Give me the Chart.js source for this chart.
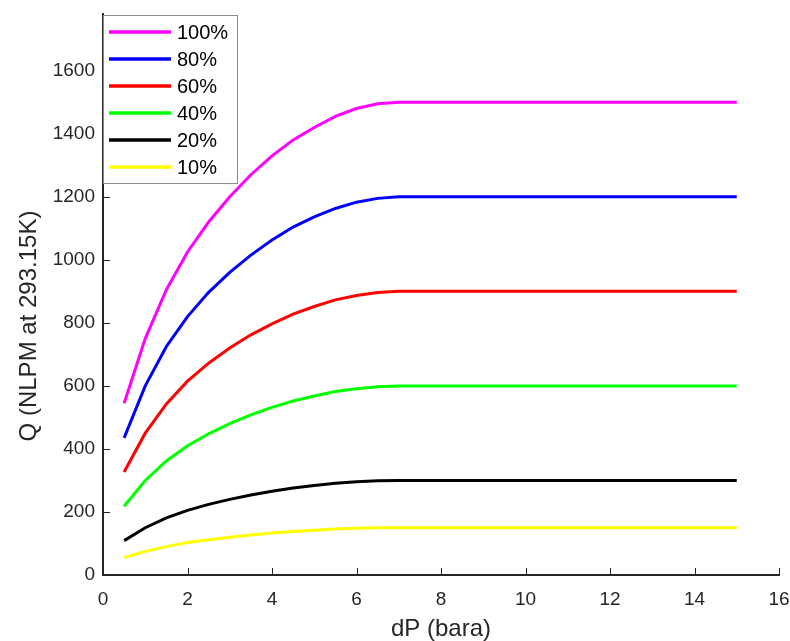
<!DOCTYPE html>
<html>
<head>
<meta charset="utf-8">
<script src="https://cdn.jsdelivr.net/npm/chart.js@4.4.1/dist/chart.umd.min.js"></script>
<style>
  html, body { margin: 0; padding: 0; background: #fff; }
</style>
</head>
<body>
<canvas id="flowChart" width="790" height="641"></canvas>
<script>
// Pressure drop (bara)
const dP = [0.5, 1, 1.5, 2, 2.5, 3, 3.5, 4, 4.5, 5, 5.5, 6, 6.5, 7, 7.5,
            8, 8.5, 9, 9.5, 10, 10.5, 11, 11.5, 12, 12.5, 13, 13.5, 14, 14.5, 15];

// Flow (NLPM) for each valve opening
const q100 = [545, 750, 905, 1025, 1120, 1200, 1270, 1330, 1380, 1420, 1455, 1480, 1495, 1500, 1500,
              1500, 1500, 1500, 1500, 1500, 1500, 1500, 1500, 1500, 1500, 1500, 1500, 1500, 1500, 1500];
const q80 = [435, 600, 725, 820, 897, 960, 1015, 1063, 1104, 1136, 1163, 1183, 1195, 1200, 1200,
             1200, 1200, 1200, 1200, 1200, 1200, 1200, 1200, 1200, 1200, 1200, 1200, 1200, 1200, 1200];
const q60 = [327, 450, 543, 615, 672, 720, 762, 797, 828, 852, 873, 887, 896, 900, 900,
             900, 900, 900, 900, 900, 900, 900, 900, 900, 900, 900, 900, 900, 900, 900];
const q40 = [218, 300, 362, 410, 448, 480, 508, 532, 552, 568, 582, 591, 597, 600, 600,
             600, 600, 600, 600, 600, 600, 600, 600, 600, 600, 600, 600, 600, 600, 600];
const q20 = [109, 150, 181, 205, 224, 240, 254, 266, 276, 284, 291, 296, 299, 300, 300,
             300, 300, 300, 300, 300, 300, 300, 300, 300, 300, 300, 300, 300, 300, 300];
const q10 = [55, 75, 90, 103, 112, 120, 127, 133, 138, 142, 146, 148, 150, 150, 150,
             150, 150, 150, 150, 150, 150, 150, 150, 150, 150, 150, 150, 150, 150, 150];

const seriesLabels = ['100%', '80%', '60%', '40%', '20%', '10%'];
const seriesColors = ['#ff00ff', '#0000ff', '#ff0000', '#00ff00', '#000000', '#ffff00'];
const xTicks = [0, 2, 4, 6, 8, 10, 12, 14, 16];
const yTicks = [0, 200, 400, 600, 800, 1000, 1200, 1400, 1600];
const xTitle = 'dP (bara)';
const yTitle = 'Q (NLPM at 293.15K)';

const FONT = '"Liberation Sans", Arial, sans-serif';
const AXIS = '#262626';

function toPoints(ys) {
    return ys.map(function(y, i) { return { x: dP[i], y: y }; });
}

// MATLAB style inward tick marks + axis titles
const matlabAxes = {
    id: 'matlabAxes',
    afterDatasetsDraw: function(chart) {
        const ctx = chart.ctx;
        const xs = chart.scales.x, ys = chart.scales.y;
        const area = chart.chartArea;
        ctx.save();
        ctx.strokeStyle = AXIS;
        ctx.lineWidth = 1;
        xTicks.forEach(function(v) {
            const px = Math.round(xs.getPixelForValue(v)) + 0.5;
            ctx.beginPath();
            ctx.moveTo(px, area.bottom);
            ctx.lineTo(px, area.bottom - 7);
            ctx.stroke();
        });
        yTicks.forEach(function(v) {
            const py = Math.round(ys.getPixelForValue(v)) + 0.5;
            ctx.beginPath();
            ctx.moveTo(area.left, py);
            ctx.lineTo(area.left + 7, py);
            ctx.stroke();
        });

        ctx.fillStyle = AXIS;
        ctx.font = '24px ' + FONT;
        ctx.textAlign = 'center';
        ctx.textBaseline = 'middle';
        ctx.fillText(xTitle, (area.left + area.right) / 2, 629);
        ctx.translate(29, 326);
        ctx.rotate(-Math.PI / 2);
        ctx.fillText(yTitle, 0, 0);
        ctx.restore();
    }
};

// boxed legend in the top-left corner
const boxLegend = {
    id: 'boxLegend',
    afterDraw: function(chart) {
        const ctx = chart.ctx;
        const left = chart.chartArea.left;
        const top = 15;
        const w = 134, h = 168;
        ctx.save();
        ctx.fillStyle = '#ffffff';
        ctx.fillRect(left, top, w, h);
        ctx.strokeStyle = '#8c8c8c';
        ctx.lineWidth = 1;
        ctx.strokeRect(left + 0.5, top + 0.5, w, h);
        ctx.font = '20px ' + FONT;
        ctx.textBaseline = 'middle';
        chart.data.datasets.forEach(function(ds, i) {
            const y = top + 17 + i * 27;
            ctx.strokeStyle = ds.borderColor;
            ctx.lineWidth = 3.5;
            ctx.beginPath();
            ctx.moveTo(left + 6, y);
            ctx.lineTo(left + 68, y);
            ctx.stroke();
            ctx.fillStyle = '#000';
            ctx.fillText(ds.label, left + 74, y + 1);
        });
        ctx.restore();
    }
};

const datasets = [q100, q80, q60, q40, q20, q10].map(function(ys, i) {
    return {
        label: seriesLabels[i],
        data: toPoints(ys),
        borderColor: seriesColors[i],
        backgroundColor: seriesColors[i],
        borderWidth: 3,
        pointRadius: 0,
        tension: 0,
        fill: false
    };
});

new Chart(document.getElementById('flowChart'), {
    type: 'line',
    data: { datasets: datasets },
    options: {
        responsive: false,
        animation: false,
        layout: { padding: { top: 14, right: 11, left: 0, bottom: 0 } },
        plugins: {
            legend: { display: false },
            tooltip: { enabled: false }
        },
        scales: {
            x: {
                type: 'linear',
                min: 0,
                max: 16,
                afterBuildTicks: function(scale) {
                    scale.ticks = xTicks.map(function(v) { return { value: v }; });
                },
                afterFit: function(scale) {
                    scale.height = 66;
                    scale.paddingLeft = 0;
                    scale.paddingRight = 0;
                },
                grid: { drawOnChartArea: false, drawTicks: false },
                border: { display: true, color: AXIS, width: 2 },
                ticks: {
                    padding: 13,
                    color: AXIS,
                    maxRotation: 0,
                    font: { family: FONT, size: 19 },
                    callback: function(v) { return String(v); }
                }
            },
            y: {
                type: 'linear',
                min: 0,
                max: 1780,
                afterBuildTicks: function(scale) {
                    scale.ticks = yTicks.map(function(v) { return { value: v }; });
                },
                afterFit: function(scale) {
                    scale.width = 103;
                    scale.paddingTop = 0;
                    scale.paddingBottom = 0;
                },
                grid: { drawOnChartArea: false, drawTicks: false },
                border: { display: true, color: AXIS, width: 2 },
                ticks: {
                    padding: 8,
                    color: AXIS,
                    font: { family: FONT, size: 19 },
                    callback: function(v) { return String(v); }
                }
            }
        }
    },
    plugins: [matlabAxes, boxLegend]
});
</script>
</body>
</html>
